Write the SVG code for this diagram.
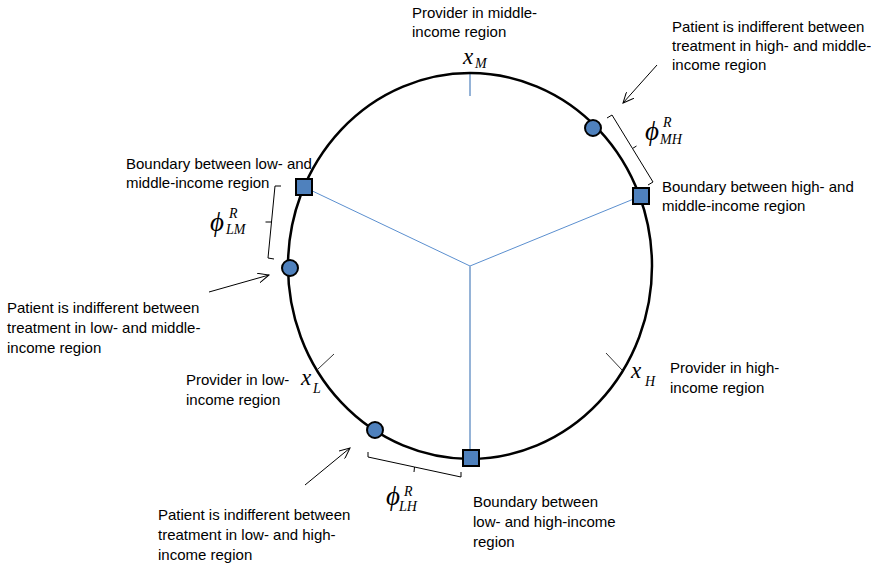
<svg xmlns="http://www.w3.org/2000/svg" width="871" height="567" viewBox="0 0 871 567">
<defs>
<style>
.t{font-family:"Liberation Sans",Arial,sans-serif;font-size:15px;fill:#000}
.m{font-family:"Liberation Serif","DejaVu Serif","Times New Roman",serif;font-style:italic;fill:#000}
.big{font-size:23px}
.phi{font-size:27px}
.sub{font-size:14px}
.spoke{stroke:#5B8FCF;stroke-width:1;fill:none}
.spoke2{stroke:#95B3D7;stroke-width:2;fill:none}
.br{stroke:#000;stroke-width:1;fill:none}
.tick{stroke:#333;stroke-width:1;fill:none}
.arr{stroke:#000;stroke-width:1;fill:none;marker-end:url(#ah)}
.sq{fill:#4F81BD;stroke:#000;stroke-width:2}
.dot{fill:#4F81BD;stroke:#000;stroke-width:2}
</style>
<marker id="ah" viewBox="0 0 12 10" refX="11" refY="5" markerWidth="12" markerHeight="10" orient="auto" markerUnits="userSpaceOnUse">
<path d="M0,0 L11,5 L0,10" fill="none" stroke="#000" stroke-width="1"/>
</marker>
</defs>
<rect width="871" height="567" fill="#fff"/>

<g id="connectors">
<line class="spoke" x1="470" y1="266" x2="304" y2="187"/>
<line class="spoke" x1="470" y1="266" x2="641" y2="196"/>
<line class="spoke2" x1="470" y1="266" x2="470" y2="458"/>
<line class="spoke2" x1="470" y1="73" x2="470" y2="96"/>
<line class="tick" x1="318" y1="369" x2="334" y2="354"/>
<line class="tick" x1="606" y1="353" x2="622" y2="370"/>
<line class="arr" x1="657" y1="65" x2="623" y2="103"/>
<line class="arr" x1="209" y1="292" x2="269" y2="275"/>
<line class="arr" x1="305" y1="485" x2="350" y2="448"/>
<path class="br" d="M607,118 L612,115 L632.5,148.5 L636.5,146 M632.5,148.5 L653,182 L648,185"/>
<path class="br" d="M281,186 L275,186 L271.5,222 L265.5,222 M271.5,222 L268,258 L274,259"/>
<path class="br" d="M368,452 L368,457 L414.5,467 L414,472 M414.5,467 L461,477 L461,472"/>
</g>

<g id="market">
<ellipse cx="470" cy="266" rx="182" ry="193" fill="none" stroke="#000" stroke-width="2.5"/>
</g>

<g id="boundary-LM"><rect class="sq" x="296" y="179" width="16" height="16"/></g>
<g id="boundary-MH"><rect class="sq" x="633" y="188" width="16" height="16"/></g>
<g id="boundary-LH"><rect class="sq" x="463" y="450" width="16" height="16"/></g>

<g id="indiff-MH"><circle class="dot" cx="593" cy="128" r="8"/></g>
<g id="indiff-LM"><circle class="dot" cx="290" cy="268" r="8"/></g>
<g id="indiff-LH"><circle class="dot" cx="375" cy="430" r="8"/></g>

<g id="provider-M">
<text class="t" x="412" y="18">Provider in middle-</text>
<text class="t" x="412" y="37">income region</text>
<text class="m big" x="463" y="64">x</text><text class="m sub" x="475" y="68">M</text>
</g>

<g id="provider-L">
<text class="t" x="186" y="385">Provider in low-</text>
<text class="t" x="186" y="405">income region</text>
<text class="m big" x="301" y="385">x</text><text class="m sub" x="313" y="393">L</text>
</g>

<g id="provider-H">
<text class="t" x="670" y="373">Provider in high-</text>
<text class="t" x="670" y="393">income region</text>
<text class="m big" x="631" y="378">x</text><text class="m sub" x="645" y="386">H</text>
</g>

<g id="label-indiff-MH">
<text class="t" x="672" y="32">Patient is indifferent between</text>
<text class="t" x="672" y="51">treatment in high- and middle-</text>
<text class="t" x="672" y="70">income region</text>
</g>

<g id="label-indiff-LM">
<text class="t" x="7" y="313">Patient is indifferent between</text>
<text class="t" x="7" y="333">treatment in low- and middle-</text>
<text class="t" x="7" y="353">income region</text>
</g>

<g id="label-indiff-LH">
<text class="t" x="158" y="520">Patient is indifferent between</text>
<text class="t" x="158" y="540">treatment in low- and high-</text>
<text class="t" x="158" y="560">income region</text>
</g>

<g id="label-boundary-LM">
<text class="t" x="126" y="169">Boundary between low- and</text>
<text class="t" x="126" y="188">middle-income region</text>
</g>

<g id="label-boundary-MH">
<text class="t" x="662" y="192">Boundary between high- and</text>
<text class="t" x="662" y="211">middle-income region</text>
</g>

<g id="label-boundary-LH">
<text class="t" x="473" y="507">Boundary between</text>
<text class="t" x="473" y="527">low- and high-income</text>
<text class="t" x="473" y="547">region</text>
</g>

<g id="phi-MH">
<text class="m phi" x="645" y="140">ϕ</text>
<text class="m sub" x="663" y="127">R</text>
<text class="m sub" x="660" y="144">MH</text>
</g>

<g id="phi-LM">
<text class="m phi" x="210" y="231">ϕ</text>
<text class="m sub" x="229" y="218">R</text>
<text class="m sub" x="226" y="234">LM</text>
</g>

<g id="phi-LH">
<text class="m phi" x="386" y="505">ϕ</text>
<text class="m sub" x="404" y="496">R</text>
<text class="m sub" x="399" y="511">LH</text>
</g>
</svg>
